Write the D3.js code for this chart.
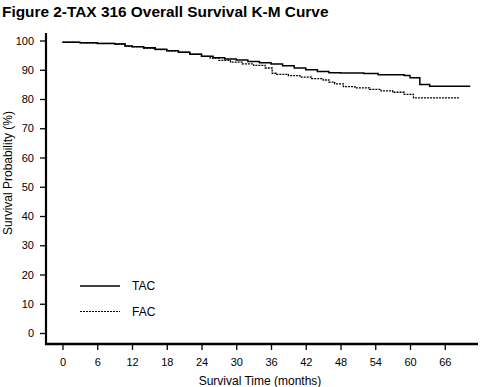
<!DOCTYPE html>
<html><head><meta charset="utf-8">
<script src="https://cdn.jsdelivr.net/npm/d3@7"></script>
<style>body{margin:0;background:#fff}svg{display:block}</style>
</head><body>
<script>
const title = "Figure 2-TAX 316 Overall Survival K-M Curve";
const xTicks = [0,6,12,18,24,30,36,42,48,54,60,66];
const yTicks = [0,10,20,30,40,50,60,70,80,90,100];
const seriesNames = ["TAC","FAC"];
const tacTime = [0,3,6,9,10.8,12,14,16,18,20,22,24,26,28,30,32,34,36,38,40,42,44,46,48,52,54.5,59,60,61.7,63.4,70.4];
const tacSurv = [99.4,99.2,99.0,98.8,98.1,97.9,97.5,97.0,96.5,96.0,95.3,94.6,94.1,93.7,93.3,92.8,92.4,92.0,91.4,90.6,90.0,89.4,89.0,88.9,88.7,88.3,88.0,87.3,85.0,84.4,84.4];
const facTime = [0,3,6,9,10.8,12,14,16,18,20,22,24,25.5,27,29,31,33,35,36.2,37,39,41,43,45,46,47,48.5,50.5,53,55,57,59,60.6,68.6];
const facSurv = [99.4,99.2,99.0,98.8,98.1,97.9,97.3,96.9,96.5,96.0,95.3,94.6,94.0,93.2,92.6,92.0,91.5,90.6,88.8,88.4,88.0,87.5,87.0,86.5,85.8,85.2,84.2,83.8,83.3,82.8,82.3,81.6,80.4,80.4];

const W=480,H=387;
const svg=d3.select("body").append("svg").attr("width",W).attr("height",H);
const x=d3.scaleLinear().domain([0,72]).range([62.5,479.5]);
const y=d3.scaleLinear().domain([0,100]).range([333,40.5]);
const font="Liberation Sans, Arial, Helvetica, sans-serif";

svg.append("text").attr("x",2).attr("y",17).attr("font-family",font).attr("font-weight","bold")
  .attr("font-size",15.4).attr("fill","#000").text(title);

// axes
const yAxis=d3.axisLeft(y).tickValues(yTicks).tickSize(6).tickPadding(6);
const gy=svg.append("g").attr("transform","translate(46,0)").call(yAxis);
gy.select(".domain").remove();
gy.append("line").attr("x1",0).attr("x2",0).attr("y1",33).attr("y2",345).attr("stroke","#000").attr("stroke-width",2.2);
gy.selectAll(".tick line").attr("stroke-width",1.3);
gy.selectAll(".tick text").attr("font-family",font).attr("font-size",11).attr("fill","#000");

const xAxis=d3.axisBottom(x).tickValues(xTicks).tickSize(6).tickPadding(8);
const gx=svg.append("g").attr("transform","translate(0,344)").call(xAxis);
gx.select(".domain").remove();
gx.append("line").attr("x1",45).attr("x2",478).attr("y1",0).attr("y2",0).attr("stroke","#000").attr("stroke-width",2.5);
gx.selectAll(".tick line").attr("stroke-width",1.3);
gx.selectAll(".tick text").attr("font-family",font).attr("font-size",11).attr("fill","#000");

svg.append("text").attr("x",260).attr("y",385).attr("text-anchor","middle").attr("font-family",font)
  .attr("font-size",12).text("Survival Time (months)");
svg.append("text").attr("transform","translate(12,173) rotate(-90)").attr("text-anchor","middle").attr("font-family",font)
  .attr("font-size",12).text("Survival Probability (%)");

const line=d3.line().x(d=>x(d[0])).y(d=>y(d[1])).curve(d3.curveStepAfter);
const tac=tacTime.map((t,i)=>[t,tacSurv[i]]);
const fac=facTime.map((t,i)=>[t,facSurv[i]]);
svg.append("path").datum(tac).attr("d",line).attr("fill","none").attr("stroke","#000").attr("stroke-width",1.5);
svg.append("path").datum(fac).attr("d",line).attr("fill","none").attr("stroke","#000").attr("stroke-width",1.3).attr("stroke-dasharray","2,1");

// legend
const leg=[{n:seriesNames[0],dash:null,yy:286},{n:seriesNames[1],dash:"2,1",yy:311.5}];
leg.forEach(l=>{
  svg.append("line").attr("x1",80).attr("x2",120).attr("y1",l.yy).attr("y2",l.yy).attr("stroke","#000")
    .attr("stroke-width",l.dash?1.2:1.5).attr("stroke-dasharray",l.dash);
  svg.append("text").attr("x",132).attr("y",l.yy+4).attr("font-family",font).attr("font-size",12).text(l.n);
});
</script>
</body></html>
